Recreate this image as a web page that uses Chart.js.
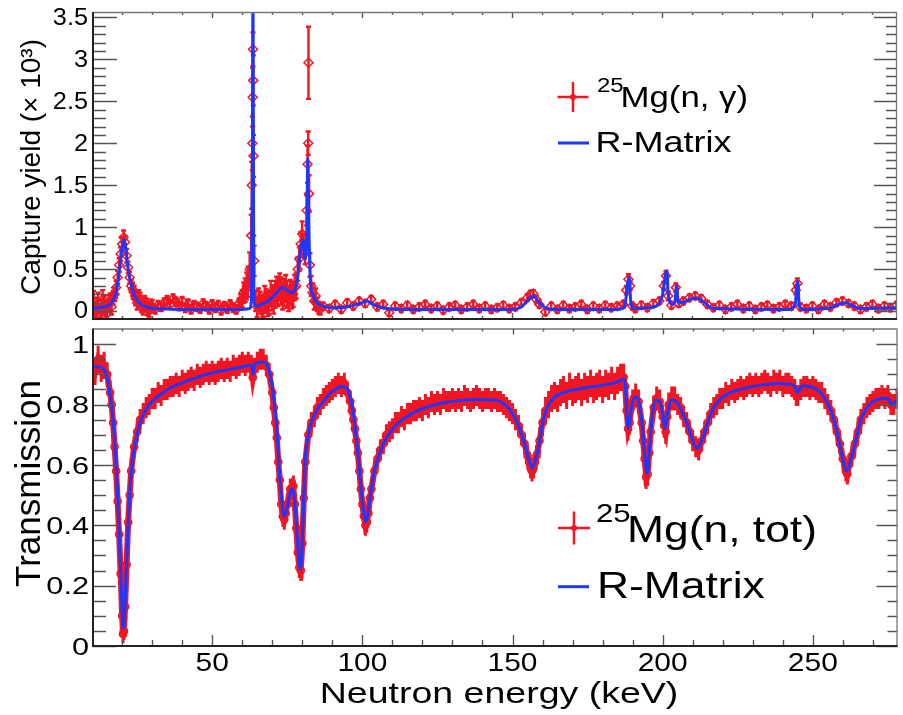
<!DOCTYPE html>
<html lang="en">
<head>
  <meta charset="UTF-8">
  <title>25Mg capture yield and transmission</title>
  <script src="https://cdn.jsdelivr.net/npm/chart.js"></script>
  <style>
    html, body { margin: 0; padding: 0; background: #fff; }
    #wrap { position: relative; width: 903px; height: 715px; }
    canvas { position: absolute; left: 0; }
    #capChart { top: 0; }
    #tranChart { top: 323px; }
  </style>
</head>
<body>
<div id="wrap">
  <canvas id="capChart" width="903" height="325"></canvas>
  <canvas id="tranChart" width="903" height="392"></canvas>
</div>
<script>
// ---- capture yield (x 10^3), measured points ----
const capX = [
  10, 10.5, 11, 11.5, 12, 12.5, 13, 13.5, 14, 14.5, 15, 15.5, 16, 16.5, 17, 17.5,
  18, 18.5, 19, 19.5, 20, 20.5, 21, 21.5, 22, 22.5, 23,
  23.5, 24, 24.5, 25, 25.5, 26, 26.5, 27, 27.5, 28, 28.5, 29, 29.5, 30,
  31, 32, 33, 34, 35, 36, 37, 38, 39, 40,
  41, 42, 43, 44, 45, 46, 47, 48, 49, 50,
  51, 52, 53, 54, 55, 56, 57, 58, 59,
  59.5, 60, 60.5, 61, 61.5, 62, 62.5, 63, 63.2, 63.4, 63.5, 63.6, 63.7, 63.8, 64, 64.5, 65,
  65.5, 66, 66.5, 67, 67.5, 68, 68.5, 69, 69.5, 70, 70.5, 71, 71.5,
  72, 72.5, 73, 73.5, 74, 74.5, 75, 75.5, 76, 76.5, 77, 77.5, 78,
  78.5, 79, 79.5, 80, 80.5, 81, 81.5, 81.8, 82, 82.1, 82.3, 82.6, 83, 83.5, 84, 84.5, 85, 85.5, 86,
  87, 89, 91, 93, 95, 97, 99, 101, 103, 105,
  107, 109, 111, 113, 115, 117, 119, 121, 123, 125,
  127, 129, 131, 133, 135, 137, 139, 141, 143, 145,
  147, 149, 151, 153,
  155, 156, 157, 158, 159,
  161, 163, 165, 167, 169, 171, 173, 175, 177, 179, 181, 183, 185, 187,
  188, 188.7, 189.3, 190, 191, 193, 195, 197, 199, 200.5,
  201.2, 202, 203, 204.5, 205.5, 207, 209, 211, 213, 215,
  217, 219, 221, 223, 225, 227, 229, 231, 233, 235, 237, 239, 241, 243,
  244.5, 245, 246, 248, 250, 252, 254, 256, 258, 260,
  262, 264, 266, 268, 270, 272, 274, 276, 278, 280
];
const capY = [
  0.06, 0.12, -0.02, 0.04, 0.10, -0.04, 0.03, 0.14, 0.08, 0.01, -0.03, 0.09, 0.12, 0.05, 0.16, 0.20,
  0.28, 0.40, 0.55, 0.68, 0.80, 0.88, 0.82, 0.66, 0.52, 0.40, 0.30,
  0.26, 0.22, 0.15, 0.10, 0.17, 0.14, 0.06, 0.03, 0.11, 0.08, 0.02, 0.00, 0.07, 0.06,
  0.02, 0.07, 0.05, 0.10, 0.13, 0.08, 0.15, 0.11, 0.06, 0.12,
  0.04, 0.09, 0.02, 0.07, 0.05, 0.03, 0.09, 0.06, 0.02, 0.08,
  0.04, 0.07, 0.01, 0.06, 0.03, 0.08, 0.04, 0.02, 0.09,
  0.12, 0.15, 0.22, 0.25, 0.30, 0.35, 0.50, 0.90, 1.50, 2.00, 2.55, 3.12, 2.75, 1.85, 0.60, 0.12, 0.05,
  0.14, 0.10, 0.02, 0.06, 0.17, 0.12, 0.08, 0.10, 0.21, 0.16, 0.13, 0.20, 0.25,
  0.22, 0.29, 0.24, 0.18, 0.22, 0.27, 0.20, 0.15, 0.22, 0.18, 0.20, 0.28, 0.30,
  0.50, 0.62, 0.80, 0.92, 0.78, 0.70, 1.20, 1.75, 2.00, 2.96, 1.40, 0.55, 0.30, 0.22, 0.12, 0.18, 0.08, 0.04, 0.02,
  0.06, 0.03, 0.08, 0.02, 0.10, 0.06, 0.12, 0.09, 0.14, 0.05,
  0.08, -0.02, 0.06, 0.03, 0.07, 0.02, 0.05, 0.08, 0.03, 0.06,
  0.01, 0.05, 0.07, 0.02, 0.05, 0.08, 0.03, 0.06, 0.02, 0.04,
  0.07, 0.03, 0.05, 0.10,
  0.16, 0.20, 0.21, 0.14, 0.08,
  -0.01, 0.06, 0.02, 0.07, 0.03, 0.05, 0.08, 0.02, 0.06, 0.03, 0.07, 0.04, 0.06, 0.08,
  0.25, 0.38, 0.30, 0.06, 0.03, 0.07, 0.04, 0.09, 0.12, 0.30,
  0.42, 0.18, 0.07, 0.28, 0.09, 0.12, 0.16, 0.18, 0.15, 0.08,
  0.04, 0.07, 0.02, 0.05, 0.08, 0.03, 0.06, 0.02, 0.05, 0.07, 0.03, 0.05, 0.08, 0.06,
  0.25, 0.33, 0.05, 0.03, 0.06, 0.02, 0.08, 0.05, 0.10, 0.12,
  0.09, 0.06, 0.02, 0.05, 0.08, 0.03, 0.06, 0.04, 0.07, 0.05
];
const capErr = [
  0.12, 0.12, 0.12, 0.12, 0.12, 0.11, 0.11, 0.11, 0.10, 0.10, 0.10, 0.10, 0.09, 0.09, 0.08, 0.08,
  0.08, 0.08, 0.08, 0.08, 0.08, 0.08, 0.08, 0.08, 0.07, 0.07, 0.07,
  0.08, 0.08, 0.08, 0.08, 0.08, 0.08, 0.07, 0.07, 0.07, 0.07, 0.07, 0.07, 0.07, 0.07,
  0.05, 0.05, 0.05, 0.05, 0.05, 0.05, 0.05, 0.05, 0.05, 0.05,
  0.05, 0.05, 0.05, 0.05, 0.05, 0.05, 0.05, 0.05, 0.05, 0.05,
  0.05, 0.05, 0.05, 0.05, 0.05, 0.05, 0.05, 0.05, 0.06,
  0.08, 0.10, 0.12, 0.14, 0.16, 0.18, 0.20, 0.25, 0.28, 0.32, 0.35, 0.20, 0.30, 0.25, 0.18, 0.12, 0.12,
  0.13, 0.13, 0.13, 0.13, 0.13, 0.14, 0.14, 0.14, 0.15, 0.15, 0.16, 0.16, 0.16,
  0.16, 0.16, 0.16, 0.16, 0.16, 0.16, 0.16, 0.15, 0.15, 0.15, 0.15, 0.15, 0.15,
  0.14, 0.14, 0.14, 0.15, 0.14, 0.14, 0.18, 0.22, 0.14, 0.43, 0.22, 0.14, 0.12, 0.11, 0.10, 0.09, 0.08, 0.07, 0.06,
  0.04, 0.04, 0.04, 0.04, 0.04, 0.04, 0.04, 0.04, 0.04, 0.04,
  0.04, 0.04, 0.04, 0.04, 0.04, 0.04, 0.04, 0.04, 0.04, 0.04,
  0.04, 0.04, 0.04, 0.04, 0.04, 0.04, 0.04, 0.04, 0.04, 0.04,
  0.04, 0.04, 0.04, 0.04,
  0.04, 0.04, 0.04, 0.04, 0.04,
  0.04, 0.04, 0.04, 0.04, 0.04, 0.04, 0.04, 0.04, 0.04, 0.04, 0.04, 0.04, 0.04, 0.04,
  0.05, 0.06, 0.05, 0.04, 0.04, 0.04, 0.04, 0.04, 0.04, 0.05,
  0.06, 0.05, 0.04, 0.05, 0.04, 0.04, 0.04, 0.04, 0.04, 0.04,
  0.04, 0.04, 0.04, 0.04, 0.04, 0.04, 0.04, 0.04, 0.04, 0.04, 0.04, 0.04, 0.04, 0.04,
  0.05, 0.06, 0.04, 0.04, 0.04, 0.04, 0.04, 0.04, 0.04, 0.04,
  0.04, 0.04, 0.04, 0.04, 0.04, 0.04, 0.04, 0.04, 0.04, 0.04
];

// ---- capture yield, R-Matrix curve ----
const capFitX = [
  10, 12, 14, 16, 17, 18, 19, 19.8, 20.5, 21,
  21.5, 22, 23, 24, 25, 26, 28, 30, 35, 40,
  50, 60, 62.5, 63.1, 63.4, 63.6, 63.8, 64.1, 65, 67,
  69, 71, 72.5, 73.5, 75, 76.5, 77.5, 78.5, 79.5, 80.3,
  80.9, 81.5, 81.9, 82.3, 82.8, 83.5, 85, 87, 90, 95,
  100, 101.5, 104, 108, 115, 130, 150, 153, 155, 157,
  159, 161, 164, 185, 187.5, 188.5, 189, 189.5, 190.5, 195,
  198, 200, 201, 201.5, 202, 203.3, 204.2, 204.8, 205.3, 206.5,
  209, 211.5, 214, 217, 242, 244.3, 244.8, 245.2, 245.6, 247,
  255, 258, 261, 263, 266, 280
];
const capFitY = [
  0.03, 0.04, 0.05, 0.08, 0.13, 0.22, 0.45, 0.70, 0.85, 0.80,
  0.66, 0.50, 0.32, 0.20, 0.13, 0.09, 0.05, 0.035, 0.025, 0.02,
  0.02, 0.02, 0.03, 0.15, 1.5, 4.0, 1.2, 0.07, 0.06, 0.09,
  0.13, 0.20, 0.26, 0.28, 0.25, 0.22, 0.25, 0.40, 0.75, 0.85,
  0.62, 0.90, 1.82, 0.90, 0.32, 0.20, 0.10, 0.06, 0.04, 0.05,
  0.10, 0.12, 0.07, 0.03, 0.02, 0.02, 0.02, 0.05, 0.12, 0.18,
  0.10, 0.04, 0.02, 0.02, 0.06, 0.35, 0.40, 0.10, 0.03, 0.04,
  0.06, 0.18, 0.42, 0.48, 0.20, 0.08, 0.12, 0.30, 0.10, 0.10,
  0.14, 0.16, 0.10, 0.03, 0.02, 0.08, 0.32, 0.35, 0.06, 0.02,
  0.03, 0.07, 0.10, 0.07, 0.03, 0.04
];

// ---- transmission, measured points ----
const tranX = [
  10, 11, 12, 13, 14, 15, 16, 16.5, 17, 17.5, 18, 18.5, 19, 19.5, 20, 20.3, 20.6,
  21, 21.5, 22, 22.5, 23, 24, 25, 26, 27, 28, 29, 30,
  31, 32, 33, 34, 35, 36, 37, 38, 39, 40, 41, 42, 43, 44, 45, 46,
  47, 48, 49, 50, 51, 52, 53, 54, 55, 56, 57, 58, 59, 60, 61, 62,
  63, 63.5, 64, 65, 66, 67, 68, 69, 70, 70.5, 71, 71.5, 72, 72.5, 73,
  73.5, 74, 74.5, 75, 76, 77, 77.5, 78, 78.5, 79, 79.5, 80, 80.5, 81,
  82, 83, 84, 85, 86, 87, 88, 89, 90, 91, 92, 93, 94, 95,
  96, 96.5, 97, 97.5, 98, 98.5, 99, 99.5, 100, 100.5, 101, 101.5, 102, 102.5, 103,
  104, 105, 106, 107, 108, 109, 110, 111, 112, 113, 114, 115, 116, 117, 118, 119, 120,
  121, 122, 123, 124, 125, 126, 127, 128, 129, 130, 131, 132, 133, 134, 135, 136, 137,
  138, 139, 140, 141, 142, 143, 144, 145, 146, 147, 148, 149, 150, 151, 152, 153, 154,
  155, 155.5, 156, 156.5, 157, 157.5, 158,
  159, 160, 161, 162, 163, 164, 165, 166, 167, 168, 169, 170, 171, 172, 173,
  174, 175, 176, 177, 178, 179, 180, 181, 182, 183, 184, 185, 186, 187,
  187.5, 188, 188.5, 189, 189.5, 190, 191, 192, 193, 193.5, 194, 194.5, 195,
  195.5, 196, 197, 198, 199, 200, 200.5, 201, 201.5, 202, 203, 204,
  205, 206, 207, 208, 209, 210, 211, 212, 213, 214, 215, 216, 217, 218, 219, 220,
  221, 222, 223, 224, 225, 226, 227, 228, 229, 230, 231, 232, 233, 234, 235, 236,
  237, 238, 239, 240, 241, 242, 243,
  244, 244.5, 245, 246, 247, 248, 249, 250, 251, 252, 253, 254, 255, 256, 257, 258, 259, 260, 261,
  261.5, 262, 263, 264, 265, 266, 267, 268, 269, 270, 271, 272, 273, 274, 275, 276, 277, 278, 279
];
const tranY = [
  0.94, 0.91, 0.95, 0.92, 0.93, 0.90, 0.84, 0.80, 0.74, 0.66, 0.58, 0.48, 0.37, 0.24, 0.10, 0.04, 0.05,
  0.13, 0.27, 0.41, 0.50, 0.58, 0.66, 0.71, 0.75, 0.77, 0.79, 0.80, 0.82,
  0.82, 0.84, 0.83, 0.85, 0.85, 0.86, 0.86, 0.87, 0.86, 0.88, 0.87, 0.88, 0.89, 0.88, 0.90, 0.89,
  0.90, 0.91, 0.90, 0.91, 0.90, 0.91, 0.92, 0.91, 0.92, 0.91, 0.93, 0.92, 0.93, 0.94, 0.93, 0.94,
  0.93, 0.89, 0.92, 0.94, 0.95, 0.95, 0.93, 0.90, 0.84, 0.79, 0.74, 0.69, 0.61, 0.55, 0.47,
  0.43, 0.42, 0.44, 0.47, 0.52, 0.53, 0.47, 0.39, 0.31, 0.26, 0.25, 0.34, 0.49, 0.61,
  0.70, 0.74, 0.76, 0.79, 0.80, 0.82, 0.83, 0.84, 0.85, 0.86, 0.87, 0.86, 0.87, 0.84,
  0.81, 0.78, 0.75, 0.72, 0.68, 0.64, 0.58, 0.52, 0.47, 0.43, 0.40, 0.41, 0.44, 0.49, 0.52,
  0.58, 0.62, 0.65, 0.67, 0.70, 0.71, 0.72, 0.74, 0.74, 0.76, 0.75, 0.77, 0.77, 0.78, 0.78, 0.79, 0.78,
  0.80, 0.79, 0.81, 0.80, 0.81, 0.80, 0.82, 0.81, 0.81, 0.82, 0.81, 0.82, 0.81, 0.83, 0.82, 0.81, 0.82,
  0.83, 0.82, 0.81, 0.82, 0.82, 0.81, 0.82, 0.81, 0.81, 0.80, 0.79, 0.78, 0.77, 0.75, 0.73, 0.70, 0.67,
  0.63, 0.61, 0.59, 0.58, 0.59, 0.61, 0.63,
  0.68, 0.74, 0.78, 0.80, 0.82, 0.83, 0.82, 0.84, 0.85, 0.83, 0.86, 0.84, 0.85, 0.86, 0.84,
  0.86, 0.85, 0.87, 0.85, 0.86, 0.87, 0.85, 0.87, 0.86, 0.88, 0.86, 0.88, 0.89, 0.89,
  0.86, 0.78, 0.72, 0.74, 0.79, 0.81, 0.83, 0.81, 0.74, 0.68, 0.62, 0.56, 0.57,
  0.64, 0.71, 0.79, 0.82, 0.81, 0.76, 0.73, 0.71, 0.76, 0.80, 0.82, 0.82,
  0.80, 0.79, 0.76, 0.74, 0.71, 0.68, 0.66, 0.65, 0.68, 0.71, 0.74, 0.77, 0.79, 0.80, 0.82, 0.82,
  0.84, 0.83, 0.85, 0.84, 0.85, 0.86, 0.85, 0.86, 0.87, 0.86, 0.87, 0.86, 0.87, 0.88, 0.87, 0.86,
  0.88, 0.87, 0.88, 0.86, 0.87, 0.87, 0.86,
  0.85, 0.83, 0.83, 0.85, 0.86, 0.86, 0.85, 0.86, 0.85, 0.84, 0.84, 0.82, 0.80, 0.78, 0.75, 0.71, 0.67, 0.62, 0.58,
  0.57, 0.60, 0.63, 0.67, 0.71, 0.75, 0.77, 0.79, 0.80, 0.81, 0.82, 0.82, 0.83, 0.82, 0.83, 0.80, 0.80, 0.82, 0.83
];
const tranErr = [
  0.045, 0.045, 0.045, 0.045, 0.045, 0.04, 0.04, 0.04, 0.04, 0.04, 0.04, 0.04, 0.04, 0.04, 0.035, 0.03, 0.03,
  0.04, 0.04, 0.04, 0.04, 0.04, 0.035, 0.035, 0.035, 0.035, 0.035, 0.035, 0.035,
  0.035, 0.035, 0.035, 0.035, 0.035, 0.035, 0.035, 0.035, 0.035, 0.035, 0.035, 0.035, 0.035, 0.035, 0.035, 0.035,
  0.035, 0.035, 0.035, 0.035, 0.035, 0.035, 0.035, 0.035, 0.035, 0.035, 0.035, 0.035, 0.035, 0.035, 0.035, 0.035,
  0.035, 0.035, 0.035, 0.035, 0.035, 0.035, 0.035, 0.035, 0.035, 0.035, 0.035, 0.035, 0.035, 0.035, 0.035,
  0.035, 0.035, 0.035, 0.035, 0.035, 0.035, 0.035, 0.035, 0.035, 0.035, 0.035, 0.035, 0.035, 0.035,
  0.035, 0.035, 0.035, 0.035, 0.035, 0.035, 0.035, 0.035, 0.035, 0.035, 0.035, 0.035, 0.035, 0.035,
  0.035, 0.035, 0.035, 0.035, 0.035, 0.035, 0.035, 0.035, 0.035, 0.035, 0.035, 0.035, 0.035, 0.035, 0.035,
  0.035, 0.035, 0.035, 0.035, 0.035, 0.035, 0.035, 0.035, 0.035, 0.035, 0.035, 0.035, 0.035, 0.035, 0.035, 0.035, 0.035,
  0.035, 0.035, 0.035, 0.035, 0.035, 0.035, 0.035, 0.035, 0.035, 0.035, 0.035, 0.035, 0.035, 0.035, 0.035, 0.035, 0.035,
  0.035, 0.035, 0.035, 0.035, 0.035, 0.035, 0.035, 0.035, 0.035, 0.035, 0.035, 0.035, 0.035, 0.035, 0.035, 0.035, 0.035,
  0.035, 0.035, 0.035, 0.035, 0.035, 0.035, 0.035,
  0.045, 0.045, 0.045, 0.045, 0.045, 0.045, 0.045, 0.045, 0.045, 0.045, 0.045, 0.045, 0.045, 0.045, 0.045,
  0.045, 0.045, 0.045, 0.045, 0.045, 0.045, 0.045, 0.045, 0.045, 0.045, 0.045, 0.045, 0.045, 0.045,
  0.04, 0.04, 0.04, 0.04, 0.04, 0.04, 0.04, 0.04, 0.04, 0.04, 0.04, 0.04, 0.04,
  0.04, 0.04, 0.04, 0.04, 0.04, 0.04, 0.04, 0.04, 0.04, 0.04, 0.04, 0.04,
  0.035, 0.035, 0.035, 0.035, 0.035, 0.035, 0.035, 0.035, 0.035, 0.035, 0.035, 0.035, 0.035, 0.035, 0.035, 0.035,
  0.035, 0.035, 0.035, 0.035, 0.035, 0.035, 0.035, 0.035, 0.035, 0.035, 0.035, 0.035, 0.035, 0.035, 0.035, 0.035,
  0.035, 0.035, 0.035, 0.035, 0.035, 0.035, 0.035,
  0.035, 0.035, 0.035, 0.035, 0.035, 0.035, 0.035, 0.035, 0.035, 0.035, 0.035, 0.035, 0.035, 0.035, 0.035, 0.035, 0.035, 0.035, 0.035,
  0.035, 0.035, 0.035, 0.035, 0.035, 0.035, 0.035, 0.035, 0.035, 0.035, 0.035, 0.035, 0.035, 0.035, 0.035, 0.035, 0.035, 0.035, 0.035
];

// ---- transmission, R-Matrix curve ----
const tranFitX = [
  10, 12, 14, 15, 16, 17, 17.5, 18, 18.5, 19,
  19.5, 20, 20.3, 20.6, 21, 21.5, 22, 22.5, 23, 24,
  25, 26, 28, 30, 33, 36, 40, 45, 50, 55,
  60, 62.5, 63.2, 63.6, 64, 66, 67.5, 68.5, 69.5, 70.5,
  71.5, 72.5, 73.5, 74, 75, 76, 76.7, 77.5, 78.2, 79,
  79.4, 80, 80.5, 81, 82, 83, 85, 87, 89, 91,
  93, 94.5, 95.5, 96.5, 97.5, 98.5, 99.5, 100.5, 101.2, 102,
  103, 104, 105.5, 107, 109, 111, 114, 118, 122, 127,
  132, 138, 143, 146, 148, 150, 152, 154, 155.5, 156.6,
  157.5, 158.5, 159.5, 160.5, 162, 164, 167, 171, 176, 181,
  185, 187, 187.6, 188, 188.6, 189.2, 190, 191, 192, 193,
  194, 194.8, 195.5, 196.5, 197.6, 199, 200, 200.8, 201.6, 203,
  204.5, 206, 208, 210, 211.5, 213, 215, 217, 220, 224,
  229, 234, 238, 242, 244, 244.8, 245.6, 246.5, 249, 252,
  254, 256, 258, 259.5, 261.3, 263, 264.5, 266, 268, 270,
  273, 275, 276.3, 277.5, 279, 280
];
const tranFitY = [
  0.925, 0.925, 0.915, 0.89, 0.83, 0.75, 0.68, 0.60, 0.50, 0.38,
  0.25, 0.12, 0.06, 0.07, 0.15, 0.28, 0.40, 0.50, 0.57, 0.65,
  0.70, 0.74, 0.785, 0.81, 0.835, 0.855, 0.872, 0.89, 0.905, 0.915,
  0.925, 0.93, 0.93, 0.90, 0.93, 0.94, 0.94, 0.925, 0.89, 0.82,
  0.72, 0.56, 0.45, 0.43, 0.46, 0.51, 0.52, 0.48, 0.38, 0.27,
  0.255, 0.35, 0.50, 0.62, 0.70, 0.74, 0.785, 0.81, 0.835, 0.85,
  0.86, 0.857, 0.84, 0.80, 0.73, 0.64, 0.53, 0.44, 0.41, 0.45,
  0.52, 0.58, 0.63, 0.67, 0.705, 0.73, 0.755, 0.778, 0.793, 0.806,
  0.813, 0.817, 0.816, 0.81, 0.795, 0.77, 0.73, 0.67, 0.615, 0.59,
  0.61, 0.65, 0.71, 0.76, 0.80, 0.825, 0.84, 0.85, 0.858, 0.866,
  0.875, 0.885, 0.86, 0.78, 0.72, 0.76, 0.81, 0.825, 0.81, 0.75,
  0.64, 0.57, 0.64, 0.76, 0.815, 0.81, 0.77, 0.72, 0.77, 0.815,
  0.81, 0.785, 0.74, 0.68, 0.655, 0.68, 0.74, 0.79, 0.825, 0.845,
  0.858, 0.866, 0.87, 0.868, 0.86, 0.84, 0.85, 0.862, 0.86, 0.845,
  0.82, 0.78, 0.71, 0.64, 0.58, 0.63, 0.69, 0.75, 0.79, 0.81,
  0.82, 0.82, 0.80, 0.81, 0.825, 0.84
];

// axis tick labels
const capTicks = [0, 0.5, 1, 1.5, 2, 2.5, 3, 3.5];
const tranTicks = [0, 0.2, 0.4, 0.6, 0.8, 1];
const energyTicks = [50, 100, 150, 200, 250];

const RED = 'rgb(242, 22, 34)';
const BLUE = 'rgb(30, 55, 255)';
const FONT = '"Liberation Sans", Arial, Helvetica, sans-serif';

function pts(xs, ys) {
  return xs.map((x, i) => ({ x: x, y: ys[i] }));
}

// horizontal text, slightly widened like the original lettering
function label(ctx, str, x, y, size, sx, align, base) {
  ctx.save();
  ctx.translate(x, y);
  ctx.scale(sx, 1);
  ctx.font = size + 'px ' + FONT;
  ctx.fillStyle = '#000';
  ctx.textAlign = align;
  ctx.textBaseline = base;
  ctx.fillText(str, 0, 0);
  ctx.restore();
}

// text rotated to read bottom-up
function vlabel(ctx, str, x, y, size) {
  ctx.save();
  ctx.translate(x, y);
  ctx.rotate(-Math.PI / 2);
  ctx.font = size + 'px ' + FONT;
  ctx.fillStyle = '#000';
  ctx.textAlign = 'center';
  ctx.textBaseline = 'alphabetic';
  ctx.fillText(str, 0, 0);
  ctx.restore();
}

function legendCross(ctx, cx, cy, hw, hh) {
  ctx.save();
  ctx.strokeStyle = RED;
  ctx.lineWidth = 2.5;
  ctx.beginPath();
  ctx.moveTo(cx - hw, cy); ctx.lineTo(cx + hw, cy);
  ctx.moveTo(cx, cy - hh); ctx.lineTo(cx, cy + hh);
  ctx.stroke();
  ctx.fillStyle = RED;
  ctx.beginPath();
  ctx.arc(cx, cy, 3, 0, 2 * Math.PI);
  ctx.fill();
  ctx.restore();
}

function legendLine(ctx, x0, x1, y) {
  ctx.save();
  ctx.strokeStyle = BLUE;
  ctx.lineWidth = 3;
  ctx.beginPath();
  ctx.moveTo(x0, y); ctx.lineTo(x1, y);
  ctx.stroke();
  ctx.restore();
}

// vertical error bars, drawn under the markers of a dataset
const errorBars = {
  id: 'errorBars',
  beforeDatasetDraw(chart, args) {
    const ds = chart.data.datasets[args.index];
    if (!ds.errors) return;
    const { ctx, chartArea: a, scales: { x, y } } = chart;
    ctx.save();
    ctx.beginPath();
    ctx.rect(a.left, a.top, a.right - a.left, a.bottom - a.top);
    ctx.clip();
    ctx.strokeStyle = RED;
    ctx.lineWidth = ds.errorWidth;
    ctx.beginPath();
    ds.data.forEach((p, i) => {
      const px = x.getPixelForValue(p.x);
      const lo = y.getPixelForValue(p.y - ds.errors[i]);
      const hi = y.getPixelForValue(p.y + ds.errors[i]);
      ctx.moveTo(px, lo); ctx.lineTo(px, hi);
      if (ds.errorCap) {
        ctx.moveTo(px - ds.errorCap, lo); ctx.lineTo(px + ds.errorCap, lo);
        ctx.moveTo(px - ds.errorCap, hi); ctx.lineTo(px + ds.errorCap, hi);
      }
    });
    ctx.stroke();
    ctx.restore();
  }
};

// ROOT-like frame with inward ticks on all four sides
const axisDeco = {
  id: 'axisDeco',
  afterDatasetsDraw(chart, args, o) {
    const { ctx, chartArea: a, scales: { x, y } } = chart;
    ctx.save();
    ctx.strokeStyle = '#555';
    ctx.lineWidth = 1.4;
    ctx.beginPath();
    const n = Math.round((o.yTop - o.yBottom) / o.yStep);
    for (let k = 0; k <= n; k++) {
      const p = Math.round(y.getPixelForValue(o.yBottom + k * o.yStep)) + 0.5;
      const major = k % o.yEvery === 0;
      ctx.moveTo(a.left, p); ctx.lineTo(a.left + (major ? o.left[0] : o.left[1]), p);
      ctx.moveTo(a.right, p); ctx.lineTo(a.right - (major ? o.right[0] : o.right[1]), p);
    }
    for (let v = 20; v <= 270; v += 10) {
      const p = Math.round(x.getPixelForValue(v)) + 0.5;
      const major = v % 50 === 0;
      ctx.moveTo(p, a.top); ctx.lineTo(p, a.top + (major ? o.top[0] : o.top[1]));
      ctx.moveTo(p, a.bottom); ctx.lineTo(p, a.bottom - (major ? o.bottom[0] : o.bottom[1]));
    }
    ctx.stroke();
    ctx.lineWidth = 1.3;
    ctx.strokeStyle = '#777';
    ctx.beginPath();
    ctx.moveTo(a.left, a.top + 0.5);
    ctx.lineTo(a.right - 0.5, a.top + 0.5);
    ctx.lineTo(a.right - 0.5, a.bottom);
    ctx.stroke();
    ctx.lineWidth = 2;
    ctx.strokeStyle = '#222';
    ctx.beginPath();
    ctx.moveTo(a.left, a.top);
    ctx.lineTo(a.left, a.bottom);
    ctx.lineTo(a.right, a.bottom);
    ctx.stroke();
    ctx.restore();
  }
};

Chart.register(errorBars, axisDeco);

function panelOptions(yMin, yMax, padding, deco) {
  return {
    responsive: false,
    animation: false,
    devicePixelRatio: 1,
    events: [],
    layout: { padding: padding },
    scales: {
      x: { type: 'linear', min: 10.3, max: 278.2, display: false },
      y: { type: 'linear', min: yMin, max: yMax, display: false }
    },
    plugins: { legend: { display: false }, tooltip: { enabled: false }, axisDeco: deco }
  };
}

// upper panel: capture yield
new Chart(document.getElementById('capChart'), {
  type: 'line',
  data: {
    datasets: [{
      label: '25Mg(n, γ)',
      data: pts(capX, capY),
      errors: capErr,
      errorWidth: 2.4,
      errorCap: 2.5,
      showLine: false,
      pointStyle: 'rectRot',
      pointRadius: 4.5,
      pointBorderWidth: 1.5,
      pointBorderColor: RED,
      pointBackgroundColor: 'rgba(255,255,255,0)',
      borderColor: RED,
      order: 1,
      clip: 0
    }, {
      label: 'R-Matrix',
      data: pts(capFitX, capFitY),
      borderColor: BLUE,
      borderWidth: 3,
      pointRadius: 0,
      cubicInterpolationMode: 'monotone',
      order: 0,
      clip: 0
    }]
  },
  options: panelOptions(-0.094, 3.565, { left: 93, right: 1, top: 12, bottom: 2 }, {
    yBottom: 0, yTop: 3.5, yStep: 0.1, yEvery: 5,
    left: [24, 13], right: [23, 11], top: [6, 3], bottom: [6, 3]
  }),
  plugins: [{
    id: 'capText',
    afterDraw(chart) {
      const { ctx, scales: { y } } = chart;
      capTicks.forEach(v => label(ctx, String(v), 88, y.getPixelForValue(v) + 1, 23, 1.1, 'right', 'middle'));
      vlabel(ctx, 'Capture yield (× 10³)', 40, 167, 28);
      legendCross(ctx, 573, 97, 15.5, 15);
      label(ctx, '25', 597, 92, 20, 1.2, 'left', 'alphabetic');
      label(ctx, 'Mg(n, γ)', 620.5, 107, 29, 1.2, 'left', 'alphabetic');
      legendLine(ctx, 558, 589, 143);
      label(ctx, 'R-Matrix', 595.5, 152, 30, 1.2, 'left', 'alphabetic');
    }
  }]
});

// lower panel: transmission
new Chart(document.getElementById('tranChart'), {
  type: 'line',
  data: {
    datasets: [{
      label: '25Mg(n, tot)',
      data: pts(tranX, tranY),
      errors: tranErr,
      errorWidth: 3,
      showLine: true,
      borderColor: RED,
      borderWidth: 6,
      tension: 0,
      pointStyle: 'circle',
      pointRadius: 3.6,
      pointBorderWidth: 1.5,
      pointBorderColor: RED,
      pointBackgroundColor: 'rgba(242, 22, 34, 0.35)',
      order: 1,
      clip: 0
    }, {
      label: 'R-Matrix',
      data: pts(tranFitX, tranFitY),
      borderColor: BLUE,
      borderWidth: 3,
      pointRadius: 0,
      cubicInterpolationMode: 'monotone',
      order: 0,
      clip: 0
    }]
  },
  options: panelOptions(0, 1.052, { left: 93, right: 1, top: 1, bottom: 69 }, {
    yBottom: 0, yTop: 1.0, yStep: 0.05, yEvery: 4,
    left: [23, 13], right: [21, 10], top: [6, 3], bottom: [11, 6]
  }),
  plugins: [{
    id: 'tranText',
    afterDraw(chart) {
      const { ctx, scales: { x, y } } = chart;
      tranTicks.forEach(v => label(ctx, String(v), 89, y.getPixelForValue(v) + 2, 24, 1.28, 'right', 'middle'));
      energyTicks.forEach(v => label(ctx, String(v), x.getPixelForValue(v), 341, 26, 1.15, 'center', 'middle'));
      label(ctx, 'Neutron energy (keV)', 499, 380, 30, 1.25, 'center', 'alphabetic');
      vlabel(ctx, 'Transmission', 40, 160.5, 35);
      legendCross(ctx, 574, 205, 16, 16.5);
      label(ctx, '25', 596, 199, 26, 1.2, 'left', 'alphabetic');
      label(ctx, 'Mg(n, tot)', 627, 218.7, 37, 1.2, 'left', 'alphabetic');
      legendLine(ctx, 558, 589, 263.7);
      label(ctx, 'R-Matrix', 597, 275.3, 37, 1.2, 'left', 'alphabetic');
    }
  }]
});
</script>
</body>
</html>
